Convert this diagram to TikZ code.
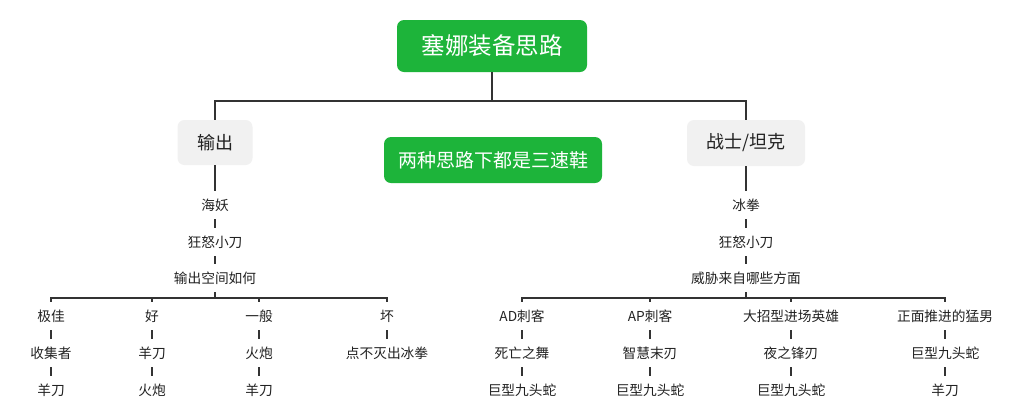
\documentclass[tikz,border=0pt]{standalone}
\usepackage{fontspec}
\setmainfont{Noto Sans CJK SC}
\definecolor{mygreen}{HTML}{1DB43A}
\definecolor{boxgray}{HTML}{F1F1F1}
\definecolor{linecol}{HTML}{333333}
\definecolor{txt}{HTML}{222222}
\begin{document}
\begin{tikzpicture}[x=1pt,y=-1pt,
  greenbox/.style={fill=mygreen,text=white,rounded corners=7pt,inner sep=0pt,align=center},
  graybox/.style={fill=boxgray,text=txt,rounded corners=7pt,inner sep=0pt,align=center,font=\fontsize{18}{22}\selectfont},
  leaf/.style={text=txt,inner sep=0pt,minimum height=28pt,font=\fontsize{13.7}{16}\selectfont},
  conn/.style={draw=linecol,line width=1.2pt}]
\fill[white] (0,0) rectangle (1026,400);
\useasboundingbox (0,0) rectangle (1026,400);

% top
\node[greenbox,minimum width=190pt,minimum height=52pt,font=\fontsize{23.5}{28}\selectfont] (root) at (492,46) {塞娜装备思路};
\node[greenbox,minimum width=218pt,minimum height=46pt,font=\fontsize{19}{23}\selectfont] (note) at (493,160) {两种思路下都是三速鞋};
\node[graybox,minimum width=75pt,minimum height=45pt] (out) at (215,142.5) {输出};
\node[graybox,minimum width=118pt,minimum height=46pt] (tank) at (746,143) {战士/坦克};

\coordinate (topbar) at (492,101);
\draw[conn] (root.south) -- (topbar);
\draw[conn] (out.north) -- (out.north |- topbar) -- (tank.north |- topbar) -- (tank.north);

% left branch
\node[leaf] (l1) at (215,205) {海妖};
\node[leaf] (l2) at (215,242) {狂怒小刀};
\node[leaf] (l3) at (215,278) {输出空间如何};
\draw[conn] (out.south) -- (l1.north);
\draw[conn] (l1.south) -- (l2.north);
\draw[conn] (l2.south) -- (l3.north);

\node[leaf] (a1) at (51,316) {极佳};
\node[leaf] (a2) at (51,353) {收集者};
\node[leaf] (a3) at (51,390) {羊刀};
\node[leaf] (b1) at (152,316) {好};
\node[leaf] (b2) at (152,353) {羊刀};
\node[leaf] (b3) at (152,390) {火炮};
\node[leaf] (c1) at (259,316) {一般};
\node[leaf] (c2) at (259,353) {火炮};
\node[leaf] (c3) at (259,390) {羊刀};
\node[leaf] (d1) at (387,316) {坏};
\node[leaf] (d2) at (387,353) {点不灭出冰拳};

\coordinate (lbar) at (215,298);
\draw[conn] (l3.south) -- (lbar);
\draw[conn] (a1.north) -- (a1.north |- lbar) -- (d1.north |- lbar) -- (d1.north);
\foreach \n in {b1,c1} \draw[conn] (\n.north) -- (\n.north |- lbar);
\foreach \p/\q in {a1/a2,a2/a3,b1/b2,b2/b3,c1/c2,c2/c3,d1/d2}
  \draw[conn] (\p.south) -- (\q.north);

% right branch
\node[leaf] (r1) at (746,205) {冰拳};
\node[leaf] (r2) at (746,242) {狂怒小刀};
\node[leaf] (r3) at (746,278) {威胁来自哪些方面};
\draw[conn] (tank.south) -- (r1.north);
\draw[conn] (r1.south) -- (r2.north);
\draw[conn] (r2.south) -- (r3.north);

\node[leaf] (e1) at (522,316) {AD刺客};
\node[leaf] (e2) at (522,353) {死亡之舞};
\node[leaf] (e3) at (522,390) {巨型九头蛇};
\node[leaf] (f1) at (650,316) {AP刺客};
\node[leaf] (f2) at (650,353) {智慧末刃};
\node[leaf] (f3) at (650,390) {巨型九头蛇};
\node[leaf] (g1) at (791,316) {大招型进场英雄};
\node[leaf] (g2) at (791,353) {夜之锋刃};
\node[leaf] (g3) at (791,390) {巨型九头蛇};
\node[leaf] (h1) at (945,316) {正面推进的猛男};
\node[leaf] (h2) at (945,353) {巨型九头蛇};
\node[leaf] (h3) at (945,390) {羊刀};

\coordinate (rbar) at (746,298);
\draw[conn] (r3.south) -- (rbar);
\draw[conn] (e1.north) -- (e1.north |- rbar) -- (h1.north |- rbar) -- (h1.north);
\foreach \n in {f1,g1} \draw[conn] (\n.north) -- (\n.north |- rbar);
\foreach \p/\q in {e1/e2,e2/e3,f1/f2,f2/f3,g1/g2,g2/g3,h1/h2,h2/h3}
  \draw[conn] (\p.south) -- (\q.north);
\end{tikzpicture}
\end{document}
